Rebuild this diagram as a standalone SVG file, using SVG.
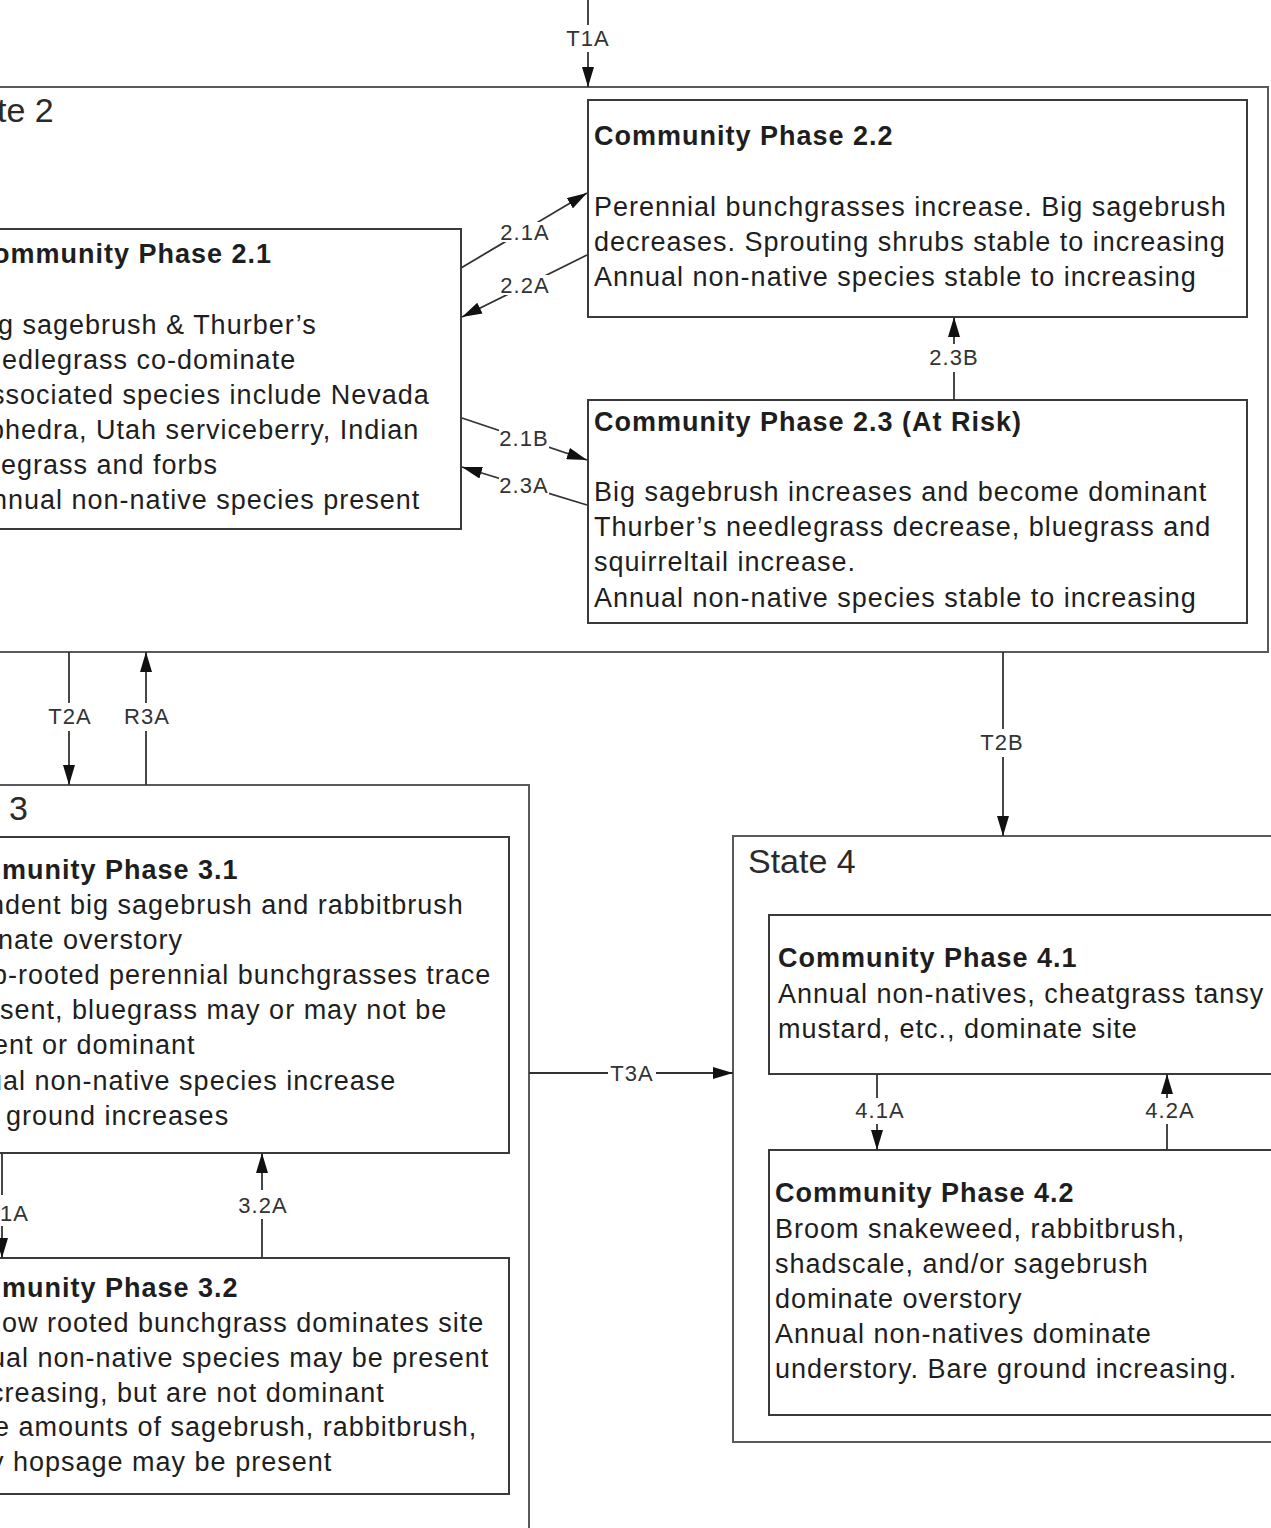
<svg xmlns="http://www.w3.org/2000/svg" width="1271" height="1528" viewBox="0 0 1271 1528">
  <defs>
    <marker id="arr" markerUnits="userSpaceOnUse" markerWidth="20" markerHeight="12" refX="20" refY="6" orient="auto">
      <path d="M0,0 L20,6 L0,12 z" fill="#111"/>
    </marker>
    <style>
      .state { fill: none; stroke: #5a5a5a; stroke-width: 2; }
      .box { fill: #fff; stroke: #3a3a3a; stroke-width: 2; }
      .c { fill: none; stroke: #333; stroke-width: 1.8; }
      .t { font-family: "Liberation Sans", Arial, sans-serif; font-size: 27px; letter-spacing: 1px; fill: #1e1e1e; }
      .b { font-weight: bold; }
      .st { font-family: "Liberation Sans", Arial, sans-serif; font-size: 34px; fill: #2a2a2a; }
      .lbl { font-family: "Liberation Sans", Arial, sans-serif; font-size: 22px; letter-spacing: 1px; fill: #333; text-anchor: middle; }
      .lbg { fill: #fff; }
    </style>
  </defs>

  <rect width="1271" height="1528" fill="#fff"/>

  <!-- state containers -->
  <g id="state2">
    <rect class="state" x="-4" y="87" width="1272" height="565"/>
    <text class="st" x="-3" y="122">te 2</text>
  </g>
  <g id="state3">
    <rect class="state" x="-4" y="785" width="533" height="780"/>
    <text class="st" x="9" y="820">3</text>
  </g>
  <g id="state4">
    <rect class="state" x="733" y="836" width="580" height="606"/>
    <text class="st" x="748" y="873">State 4</text>
  </g>

  <!-- community phases -->
  <g id="phase21">
    <rect class="box" x="-4" y="229" width="465" height="300"/>
    <text class="t b" x="-7" y="263">ommunity Phase 2.1</text>
    <text class="t" x="-2" y="334">g sagebrush &amp; Thurber’s</text>
    <text class="t" x="2" y="369">edlegrass co-dominate</text>
    <text class="t" x="-9" y="404">ssociated species include Nevada</text>
    <text class="t" x="-11" y="439">phedra, Utah serviceberry, Indian</text>
    <text class="t" x="1" y="474">egrass and forbs</text>
    <text class="t" x="-8" y="509">nnual non-native species present</text>
  </g>

  <g id="phase22">
    <rect class="box" x="588" y="100" width="659" height="217"/>
    <text class="t b" x="594" y="145">Community Phase 2.2</text>
    <text class="t" x="594" y="216">Perennial bunchgrasses increase. Big sagebrush</text>
    <text class="t" x="594" y="251">decreases. Sprouting shrubs stable to increasing</text>
    <text class="t" x="594" y="286">Annual non-native species stable to increasing</text>
  </g>

  <g id="phase23">
    <rect class="box" x="588" y="400" width="659" height="223"/>
    <text class="t b" x="594" y="431">Community Phase 2.3 (At Risk)</text>
    <text class="t" x="594" y="501">Big sagebrush increases and become dominant</text>
    <text class="t" x="594" y="536">Thurber’s needlegrass decrease, bluegrass and</text>
    <text class="t" x="594" y="571">squirreltail increase.</text>
    <text class="t" x="594" y="607">Annual non-native species stable to increasing</text>
  </g>

  <g id="phase31">
    <rect class="box" x="-4" y="837" width="513" height="316"/>
    <text class="t b" x="2" y="879">munity Phase 3.1</text>
    <text class="t" x="-11" y="914">ndent big sagebrush and rabbitbrush</text>
    <text class="t" x="-2" y="949">nate overstory</text>
    <text class="t" x="-8" y="984">p-rooted perennial bunchgrasses trace</text>
    <text class="t" x="0" y="1019">sent, bluegrass may or may not be</text>
    <text class="t" x="-7" y="1054">ent or dominant</text>
    <text class="t" x="-13" y="1090">ual non-native species increase</text>
    <text class="t" x="6" y="1125">ground increases</text>
  </g>

  <g id="phase32">
    <rect class="box" x="-4" y="1258" width="513" height="236"/>
    <text class="t b" x="2" y="1297">munity Phase 3.2</text>
    <text class="t" x="2" y="1332">ow rooted bunchgrass dominates site</text>
    <text class="t" x="-10" y="1367">ual non-native species may be present</text>
    <text class="t" x="-10" y="1402">creasing, but are not dominant</text>
    <text class="t" x="-6" y="1436">e amounts of sagebrush, rabbitbrush,</text>
    <text class="t" x="-10" y="1471">y hopsage may be present</text>
  </g>

  <g id="phase41">
    <rect class="box" x="769" y="915" width="540" height="159"/>
    <text class="t b" x="778" y="967">Community Phase 4.1</text>
    <text class="t" x="778" y="1003">Annual non-natives, cheatgrass tansy</text>
    <text class="t" x="778" y="1038">mustard, etc., dominate site</text>
  </g>

  <g id="phase42">
    <rect class="box" x="769" y="1150" width="540" height="265"/>
    <text class="t b" x="775" y="1202">Community Phase 4.2</text>
    <text class="t" x="775" y="1238">Broom snakeweed, rabbitbrush,</text>
    <text class="t" x="775" y="1273">shadscale, and/or sagebrush</text>
    <text class="t" x="775" y="1308">dominate overstory</text>
    <text class="t" x="775" y="1343">Annual non-natives dominate</text>
    <text class="t" x="775" y="1378">understory. Bare ground increasing.</text>
  </g>

  <!-- transitions and pathways -->
  <g id="connectors">
    <!-- T1A -->
    <line class="c" x1="588" y1="0" x2="588" y2="25"/>
    <line class="c" x1="588" y1="52" x2="588" y2="87" marker-end="url(#arr)"/>
    <text class="lbl" x="588" y="46">T1A</text>

    <!-- 2.1A / 2.2A -->
    <line class="c" x1="461" y1="268" x2="587" y2="193" marker-end="url(#arr)"/>
    <line class="c" x1="587" y1="255" x2="462" y2="317" marker-end="url(#arr)"/>
    <rect class="lbg" x="499" y="222" width="52" height="20"/>
    <rect class="lbg" x="499" y="275" width="52" height="20"/>
    <text class="lbl" x="525" y="240">2.1A</text>
    <text class="lbl" x="525" y="293">2.2A</text>

    <!-- 2.1B / 2.3A -->
    <line class="c" x1="462" y1="418" x2="587" y2="460" marker-end="url(#arr)"/>
    <line class="c" x1="587" y1="505" x2="462" y2="467" marker-end="url(#arr)"/>
    <rect class="lbl lbg" x="499" y="429" width="50" height="19"/>
    <rect class="lbl lbg" x="499" y="476" width="50" height="19"/>
    <text class="lbl" x="524" y="446">2.1B</text>
    <text class="lbl" x="524" y="493">2.3A</text>

    <!-- 2.3B -->
    <line class="c" x1="954" y1="400" x2="954" y2="372"/>
    <line class="c" x1="954" y1="344" x2="954" y2="317" marker-end="url(#arr)"/>
    <text class="lbl" x="954" y="365">2.3B</text>

    <!-- T2A / R3A -->
    <line class="c" x1="69" y1="652" x2="69" y2="703"/>
    <line class="c" x1="69" y1="731" x2="69" y2="785" marker-end="url(#arr)"/>
    <text class="lbl" x="70" y="724">T2A</text>
    <line class="c" x1="146" y1="785" x2="146" y2="731"/>
    <line class="c" x1="146" y1="703" x2="146" y2="652" marker-end="url(#arr)"/>
    <text class="lbl" x="147" y="724">R3A</text>

    <!-- T2B -->
    <line class="c" x1="1003" y1="652" x2="1003" y2="729"/>
    <line class="c" x1="1003" y1="757" x2="1003" y2="836" marker-end="url(#arr)"/>
    <text class="lbl" x="1002" y="750">T2B</text>

    <!-- T3A -->
    <line class="c" x1="529" y1="1073" x2="608" y2="1073"/>
    <line class="c" x1="656" y1="1073" x2="733" y2="1073" marker-end="url(#arr)"/>
    <text class="lbl" x="632" y="1081">T3A</text>

    <!-- 3.1A / 3.2A -->
    <line class="c" x1="2" y1="1153" x2="2" y2="1195"/>
    <line class="c" x1="2" y1="1226" x2="2" y2="1258" marker-end="url(#arr)"/>
    <text class="lbl" x="0" y="1221" style="text-anchor:start">1A</text>
    <line class="c" x1="262" y1="1258" x2="262" y2="1219"/>
    <line class="c" x1="262" y1="1190" x2="262" y2="1153" marker-end="url(#arr)"/>
    <text class="lbl" x="263" y="1213">3.2A</text>

    <!-- 4.1A / 4.2A -->
    <line class="c" x1="877" y1="1074" x2="877" y2="1098"/>
    <line class="c" x1="877" y1="1124" x2="877" y2="1150" marker-end="url(#arr)"/>
    <text class="lbl" x="880" y="1118">4.1A</text>
    <line class="c" x1="1167" y1="1150" x2="1167" y2="1124"/>
    <line class="c" x1="1167" y1="1098" x2="1167" y2="1074" marker-end="url(#arr)"/>
    <text class="lbl" x="1170" y="1118">4.2A</text>
  </g>
</svg>
